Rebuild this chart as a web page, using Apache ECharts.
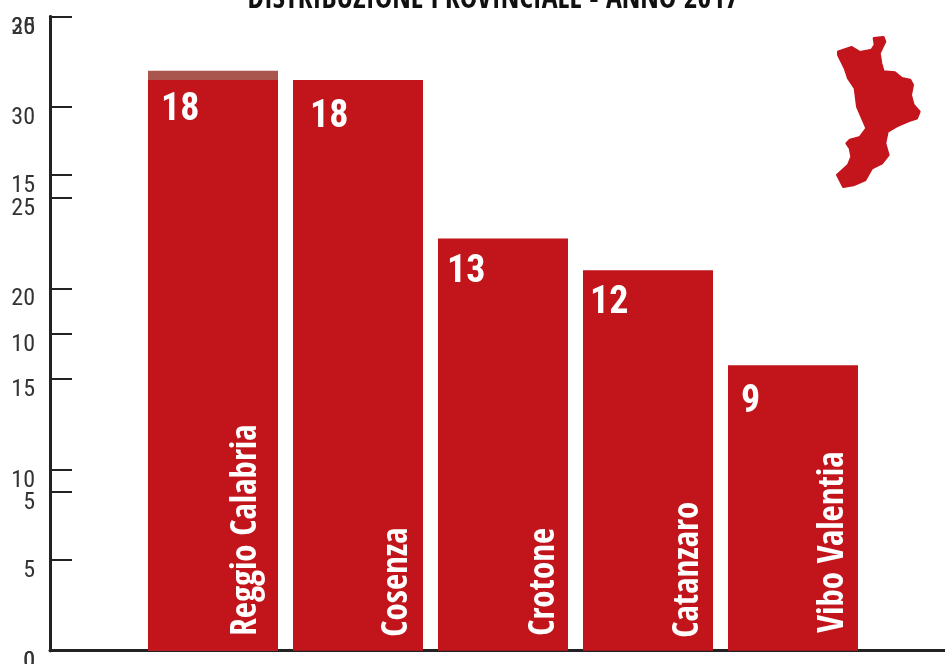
<!DOCTYPE html>
<html>
<head>
<meta charset="utf-8">
<style>html,body{margin:0;padding:0;background:#fff}#chart{width:945px;height:664px}</style>
<script src="https://cdn.jsdelivr.net/npm/echarts@6/dist/echarts.min.js"></script>
</head>
<body>
<div id="chart"></div>
<script>
// Province names and counts for 2017
const provinces = ['Reggio Calabria', 'Cosenza', 'Crotone', 'Catanzaro', 'Vibo Valentia'];
const counts = [18, 18, 13, 12, 9];
// Paler strip rising behind the first bar, read on the 0-35 scale
const backdropProvinceIndex = 0;
const backdropValue = 32;
// Tick scales of the two overlaid axes
const outerAxisMax = 35;
const innerAxisMax = 20;
const tickStep = 5;
const chartTitle = 'DISTRIBUZIONE PROVINCIALE - ANNO 2017';

// Label placement inside each bar, in pixels from the bar's corners
const countLabelAnchors = [[13, 12], [17, 19], [9, 15], [7, 14], [13, 18]];
const nameLabelAnchors = [116, 122, 124, 123, 123];
const nameLabelLifts = [15, 14, 15, 13, 18];

// Outline of Calabria, drawn as a small locator in the top-right corner
const calabriaOutline = [
  [222,55],[250,52],[255,65],[245,85],[238,100],[243,130],[250,155],[285,158],[305,175],
  [330,180],[338,195],[332,225],[340,255],[358,275],[350,295],[325,303],[290,318],[262,335],
  [255,370],[265,405],[245,430],[215,445],[195,480],[160,495],[130,500],[112,465],[145,435],
  [155,410],[150,385],[140,370],[150,360],[180,352],[200,325],[185,290],[172,260],[165,205],
  [145,175],[135,145],[115,105],[115,95],[155,82],[180,97],[215,90],[225,75]
];

const RED = '#c1141b';
const INK = '#222222';
const CONDENSED = '"Open Sans Condensed", "Roboto Condensed", sans-serif';
const TICK_FONT = '"Roboto Condensed", sans-serif';

const valueAxisStyle = {
  type: 'value',
  position: 'left',
  min: 0,
  interval: tickStep,
  splitLine: { show: false },
  axisLine: { show: true, onZero: false, lineStyle: { color: INK, width: 3 } },
  axisTick: { show: true, inside: true, length: 22, lineStyle: { color: INK, width: 2 } },
  axisLabel: {
    show: true,
    margin: 15,
    color: '#333333',
    fontFamily: TICK_FONT,
    fontSize: 24,
    verticalAlign: 'top',
    lineHeight: 22,
    hideOverlap: false
  }
};

const chart = echarts.init(document.getElementById('chart'), null, { renderer: 'canvas' });
chart.setOption({
  animation: false,
  backgroundColor: '#ffffff',
  title: {
    text: chartTitle,
    left: 488,
    top: -20,
    textAlign: 'center',
    textStyle: { fontFamily: CONDENSED, fontWeight: 'bold', fontSize: 29.6, color: '#111111' }
  },
  grid: { left: 50, right: 0, top: 16.5, bottom: 13.3, outerBoundsMode: 'none' },
  xAxis: {
    type: 'value',
    min: -1.1241,
    max: 5.0483,
    splitLine: { show: false },
    axisTick: { show: false },
    axisLabel: { show: false },
    axisLine: { show: true, lineStyle: { color: INK, width: 3 } }
  },
  yAxis: [
    Object.assign({}, valueAxisStyle, { max: outerAxisMax }),
    Object.assign({}, valueAxisStyle, { max: innerAxisMax })
  ],
  series: [
    {
      name: 'backdrop',
      type: 'bar',
      yAxisIndex: 0,
      barWidth: 130,
      barGap: '-100%',
      itemStyle: { color: '#a8564e' },
      data: [[backdropProvinceIndex, backdropValue]]
    },
    {
      name: 'counts',
      type: 'bar',
      yAxisIndex: 1,
      barWidth: 130,
      barGap: '-100%',
      itemStyle: { color: RED },
      data: counts.map((v, i) => ({
        value: [i, v],
        label: {
          show: true,
          position: countLabelAnchors[i],
          align: 'left',
          verticalAlign: 'top',
          formatter: String(v),
          color: '#ffffff',
          fontFamily: TICK_FONT,
          fontWeight: 'bold',
          fontSize: 38
        }
      }))
    },
    {
      name: 'province names',
      type: 'bar',
      yAxisIndex: 1,
      barWidth: 130,
      barGap: '-100%',
      itemStyle: { color: 'transparent' },
      data: counts.map((v, i) => ({
        value: [i, v],
        label: {
          show: true,
          position: [nameLabelAnchors[i], '100%'],
          offset: [nameLabelLifts[i], 0],
          rotate: 90,
          align: 'left',
          verticalAlign: 'bottom',
          formatter: provinces[i],
          color: '#ffffff',
          fontFamily: CONDENSED,
          fontWeight: 'bold',
          fontSize: 35
        }
      }))
    }
  ],
  graphic: [
    {
      type: 'polygon',
      x: 800,
      y: 20,
      scaleX: 1 / 3,
      scaleY: 1 / 3,
      silent: true,
      shape: { points: calabriaOutline },
      style: { fill: '#c4141c', stroke: '#c4141c', lineWidth: 8, lineJoin: 'round' }
    }
  ]
});
</script>
</body>
</html>
